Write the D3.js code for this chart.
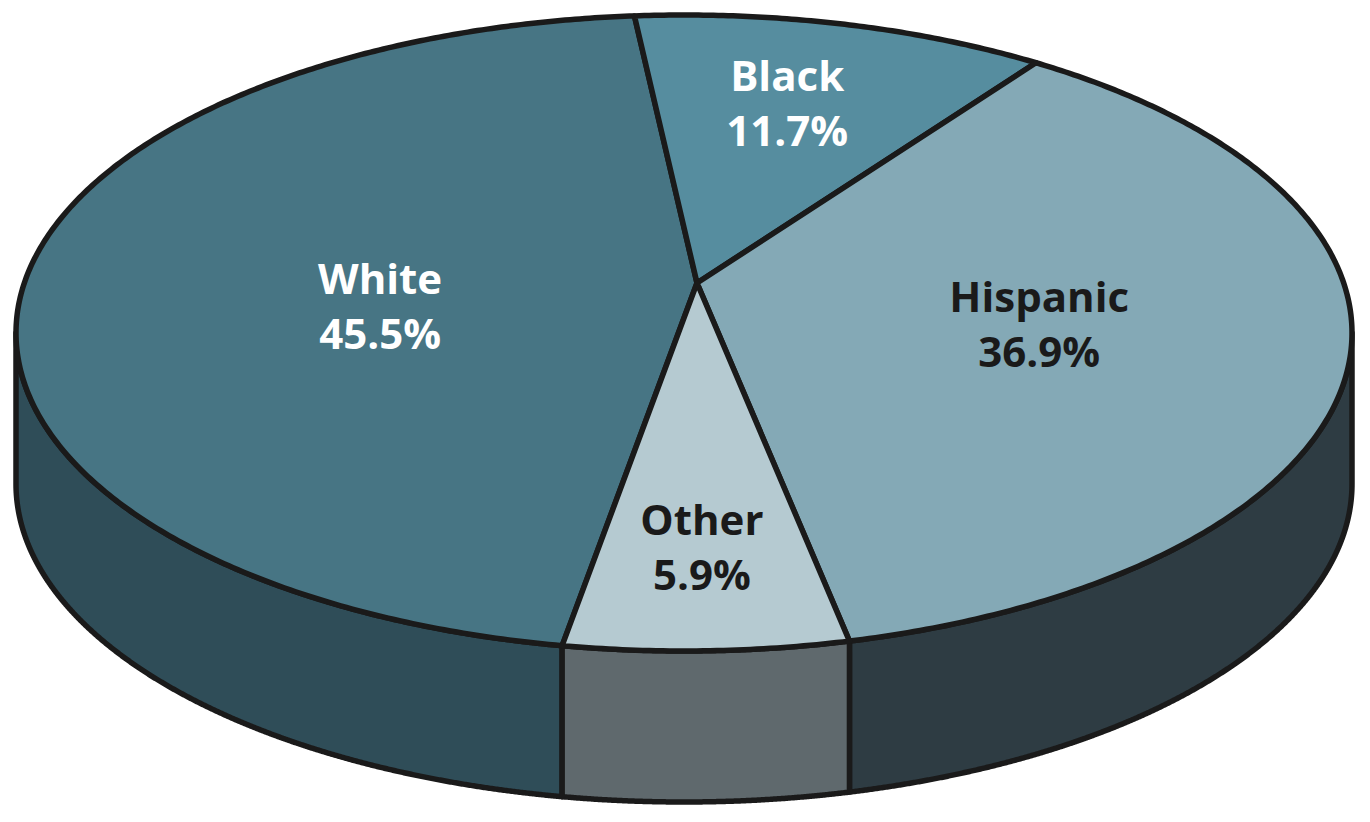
<!DOCTYPE html>
<html>
<head>
<meta charset="utf-8">
<script src="https://cdn.jsdelivr.net/npm/d3@7"></script>
<style>
  html, body { margin: 0; background: #fff; }
  svg { display: block; }
</style>
</head>
<body>
<svg id="chart" width="1370" height="822"></svg>
<script>
// data
const categories = ["White", "Black", "Hispanic", "Other"];
const shares = [45.5, 11.7, 36.9, 5.9];
const shareLabels = ["45.5%", "11.7%", "36.9%", "5.9%"];

// look
const topColors = ["#477584", "#568D9F", "#84A9B6", "#B5CAD1"];
const sideColors = ["#2F4D58", "#3D6676", "#2E3C43", "#5F696D"];
const textColors = ["#ffffff", "#ffffff", "#1a1a1a", "#1a1a1a"];
const labelRadius = [0.47, 0.65, 0.53, 0.75];
const labelNudge = [[-5, 28], [-9, -3], [-2, 5], [-2, 0]];

// the rim ellipse on screen, where the pie centre lands, and the thickness
const ell = { cx: 684, cy: 333, rx: 668, ry: 318 };
const apex = [697, 283];
const depth = 151;
const firstBoundaryDeg = -6.2; // White / Black border at the back

const rad = d => d * Math.PI / 180;
const total = d3.sum(shares);
const start = rad(firstBoundaryDeg) - shares[0] / total * 2 * Math.PI;

const pie = d3.pie()
    .sort(null)
    .startAngle(start)
    .endAngle(start + 2 * Math.PI)
    .value(d => d);
const arcs = pie(shares);

// perspective: a projective map of the unit disk onto itself that sends
// the centre to the apex, then stretched onto the rim ellipse
const px = (apex[0] - ell.cx) / ell.rx, py = (apex[1] - ell.cy) / ell.ry;
const beta = Math.hypot(px, py);
const nx = px / beta, ny = py / beta;
const gamma = 1 / Math.sqrt(1 - beta * beta);

function project(t, r) {
    const x = r * Math.sin(t), y = -r * Math.cos(t);
    const par = x * nx + y * ny;
    const qx = x - par * nx, qy = y - par * ny;
    const parP = gamma * (par + beta);
    const z = gamma * (1 + beta * par);
    const X = (parP * nx + qx) / z, Y = (parP * ny + qy) / z;
    return { x: ell.cx + ell.rx * X, y: ell.cy + ell.ry * Y, front: Y };
}

function rimPoints(a0, a1, step) {
    const n = Math.max(2, Math.ceil((a1 - a0) / step));
    return d3.range(n + 1).map(i => project(a0 + (a1 - a0) * i / n, 1));
}

// visible (front) runs of the rim for one slice
function frontRuns(a0, a1) {
    const step = rad(0.1);
    const n = Math.max(2, Math.ceil((a1 - a0) / step));
    const runs = [];
    let cur = null;
    let prevT = a0, prev = project(a0, 1);
    for (let i = 0; i <= n; i++) {
        const t = a0 + (a1 - a0) * i / n;
        const p = project(t, 1);
        if (p.front >= 0) {
            if (!cur) {
                cur = [];
                if (i > 0 && prev.front < 0) {
                    const f = prev.front / (prev.front - p.front);
                    cur.push(project(prevT + (t - prevT) * f, 1));
                }
                runs.push(cur);
            }
            cur.push(p);
        } else if (cur) {
            const f = prev.front / (prev.front - p.front);
            cur.push(project(prevT + (t - prevT) * f, 1));
            cur = null;
        }
        prevT = t; prev = p;
    }
    return runs;
}

const svg = d3.select("#chart");
const stroke = "#1a1a1a", strokeW = 5.5;
const line = d3.line().x(p => p.x).y(p => p.y);

// sides
const gSide = svg.append("g");
arcs.forEach((a, i) => {
    frontRuns(a.startAngle, a.endAngle).forEach(run => {
        const poly = run.concat(run.slice().reverse().map(p => ({ x: p.x, y: p.y + depth })));
        gSide.append("path")
            .attr("d", line(poly) + "Z")
            .attr("fill", sideColors[i])
            .attr("stroke", stroke)
            .attr("stroke-width", strokeW)
            .attr("stroke-linejoin", "round");
    });
});

// top faces
const c0 = project(0, 0);
svg.append("g").selectAll("path")
    .data(arcs)
    .join("path")
    .attr("d", a => line([c0].concat(rimPoints(a.startAngle, a.endAngle, rad(0.5)))) + "Z")
    .attr("fill", (a, i) => topColors[i])
    .attr("stroke", stroke)
    .attr("stroke-width", strokeW)
    .attr("stroke-linejoin", "round");

// labels
const labels = svg.append("g")
    .attr("font-family", "'Open Sans', sans-serif")
    .attr("font-weight", 700)
    .attr("font-size", 42)
    .attr("text-anchor", "middle");

arcs.forEach((a, i) => {
    const p = project((a.startAngle + a.endAngle) / 2, labelRadius[i]);
    const x = p.x + labelNudge[i][0], y = p.y + labelNudge[i][1];
    const t = labels.append("text").attr("fill", textColors[i]);
    t.append("tspan").attr("x", x).attr("y", y - 12).text(categories[i]);
    t.append("tspan").attr("x", x).attr("y", y + 43).text(shareLabels[i]);
});
</script>
</body>
</html>
